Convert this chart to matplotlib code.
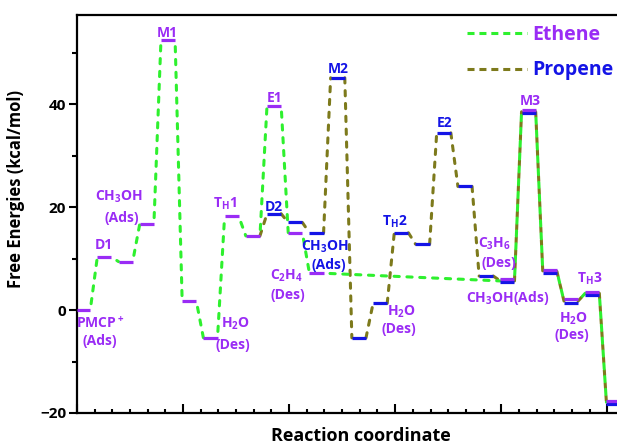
"""
Free-energy profile of the ethene and propene routes starting from PMCP+.

Each intermediate / TS is a short horizontal bar; neighbouring bars are
joined by dashed lines. Ethene route: purple bars, green dashes.
Propene route: blue bars, olive dashes. The two share the last six steps.

Writes out.png (617x445 px).
"""

import matplotlib.pyplot as plt
from matplotlib.lines import Line2D
from matplotlib.ticker import MultipleLocator

# step index along the reaction coordinate -> free energy (kcal/mol)
ETHENE_STEP = [0, 1, 2, 3, 4, 5, 6, 7, 8, 9, 10, 11, 20, 21, 22, 23, 24, 25]
ETHENE_G = [0.0, 10.3, 9.4, 16.7, 52.4, 1.75, -5.4, 18.2, 14.4, 39.7, 15.0,
            7.15, 5.65, 38.5, 7.5, 1.75, 3.25, -17.9]

PROPENE_STEP = [8, 9, 10, 11, 12, 13, 14, 15, 16, 17, 18, 19, 20, 21, 22,
                23, 24, 25]
PROPENE_G = [14.4, 18.7, 17.0, 15.0, 45.1, -5.4, 1.3, 15.0, 12.8, 34.4, 24.0,
             6.6, 5.65, 38.5, 7.5, 1.75, 3.25, -17.9]

SHARED_STEPS = [20, 21, 22, 23, 24, 25]

# annotations: text, x, y (baseline), route
LABELS = [
    ("M1", 5.12, 53.0, "eth"),
    ("E1", 11.2, 40.4, "eth"),
    ("M2", 14.76, 46.0, "pro"),
    ("E2", 20.79, 35.5, "pro"),
    ("M3", 25.62, 39.8, "eth"),
    ("D1", 1.53, 11.9, "eth"),
    ("CH$_3$OH", 2.35, 21.3, "eth"),
    ("(Ads)", 2.52, 17.0, "eth"),
    ("PMCP$^+$", 1.33, -3.4, "eth"),
    ("(Ads)", 1.30, -6.8, "eth"),
    ("T$_H$1", 8.37, 19.9, "eth"),
    ("D2", 11.14, 19.3, "pro"),
    ("H$_2$O", 8.97, -3.4, "eth"),
    ("(Des)", 8.8, -7.5, "eth"),
    ("C$_2$H$_4$", 11.88, 6.0, "eth"),
    ("(Des)", 11.9, 2.2, "eth"),
    ("CH$_3$OH", 14.03, 11.5, "pro"),
    ("(Ads)", 14.25, 8.0, "pro"),
    ("T$_H$2", 18.0, 16.4, "pro"),
    ("H$_2$O", 18.35, -1.1, "eth"),
    ("(Des)", 18.18, -4.4, "eth"),
    ("C$_3$H$_6$", 23.64, 12.2, "eth"),
    ("(Des)", 23.87, 8.3, "eth"),
    ("CH$_3$OH(Ads)", 24.35, 1.5, "eth"),
    ("T$_H$3", 28.99, 5.4, "eth"),
    ("H$_2$O", 28.1, -2.4, "eth"),
    ("(Des)", 27.97, -5.6, "eth"),
]

GREEN = "#2ef02e"
OLIVE = "#7d7a1c"
PURPLE = "#9a2cf5"
BLUE = "#1414e6"
TEXT_COLOR = {"eth": PURPLE, "pro": BLUE}

STEP_PITCH = 1.2      # spacing of the bars along x
BAR_LEFT = -0.05      # bar start relative to step * pitch
BAR_WIDTH = 0.8
DASH = (1.7, 2.5)     # in linewidths, round caps add lw/2 each side


def bar_span(step):
    x0 = step * STEP_PITCH + BAR_LEFT
    return max(x0, 0.0), x0 + BAR_WIDTH


def draw_route(ax, steps, energies, dash_color, dash_offset):
    for (s0, g0), (s1, g1) in zip(zip(steps, energies), zip(steps[1:], energies[1:])):
        xa = bar_span(s0)[1]
        xb = bar_span(s1)[0]
        ax.plot([xa, xb], [g0, g1], color=dash_color, lw=2.2,
                linestyle=(dash_offset, DASH), dash_capstyle="round", zorder=2)


def draw_bars(ax, steps, energies, color, skip_first=False, shift=0.0):
    for i, (s, g) in enumerate(zip(steps, energies)):
        if skip_first and i == 0:
            continue
        dy = shift if s in SHARED_STEPS else 0.0
        x0, x1 = bar_span(s)
        ax.plot([x0, x1], [g + dy, g + dy], color=color, lw=2.3,
                solid_capstyle="butt", zorder=3)


def main():
    plt.rcParams.update({
        "font.family": ["Open Sans", "DejaVu Sans"],
        "font.weight": "bold",
        "mathtext.fontset": "custom",
        "mathtext.rm": "Open Sans:bold",
        "mathtext.it": "Open Sans:bold",
        "mathtext.bf": "Open Sans:bold",
        "mathtext.default": "regular",
    })

    fig = plt.figure(figsize=(6.17, 4.45), dpi=100)
    ax = fig.add_axes([77 / 617, 32 / 445, 540 / 617, 398 / 445])

    draw_route(ax, PROPENE_STEP, PROPENE_G, OLIVE, 0.0)
    draw_route(ax, ETHENE_STEP, ETHENE_G, GREEN, 2.1)
    draw_bars(ax, PROPENE_STEP, PROPENE_G, BLUE, skip_first=True, shift=-0.3)
    draw_bars(ax, ETHENE_STEP, ETHENE_G, PURPLE, shift=0.3)

    for text, x, y, route in LABELS:
        ax.text(x, y, text, color=TEXT_COLOR[route], fontsize=10,
                fontweight="bold", ha="center", va="baseline", zorder=4)

    handles = [Line2D([], [], color=GREEN, lw=2.2, linestyle=(0, (2.3, 1.6))),
               Line2D([], [], color=OLIVE, lw=2.2, linestyle=(0, (2.3, 1.6)))]
    leg = ax.legend(handles, ["Ethene", "Propene"], loc="upper right",
                    bbox_to_anchor=(1.0, 0.985), frameon=False,
                    prop={"size": 14, "weight": "bold"},
                    handlelength=3.1, handletextpad=0.25, labelspacing=0.8,
                    borderpad=0.2, borderaxespad=0.0)
    for txt, col in zip(leg.get_texts(), [PURPLE, BLUE]):
        txt.set_color(col)

    ax.set_xlim(0, 30.55)
    ax.set_ylim(-20, 57.3)
    ax.xaxis.set_major_locator(MultipleLocator(6))
    ax.xaxis.set_minor_locator(MultipleLocator(1))
    ax.yaxis.set_major_locator(MultipleLocator(20))
    ax.yaxis.set_minor_locator(MultipleLocator(10))
    ax.tick_params(axis="x", which="both", direction="in", labelbottom=False)
    ax.tick_params(axis="x", which="major", length=6.5, width=1.5)
    ax.tick_params(axis="x", which="minor", length=3.0, width=1.5)
    ax.tick_params(axis="y", which="major", direction="out", length=5.8,
                   width=1.5, labelsize=11, pad=2)
    ax.tick_params(axis="y", which="minor", direction="out", length=3.6, width=1.5)
    for lab in ax.get_yticklabels():
        lab.set_fontweight("bold")

    for side in ("left", "bottom", "top"):
        ax.spines[side].set_linewidth(1.6)
    ax.spines["right"].set_visible(False)

    ax.set_ylabel("Free Energies (kcal/mol)", fontsize=12, fontweight="bold")
    ax.yaxis.set_label_coords(-0.097, 0.563)
    ax.set_xlabel("Reaction coordinate", fontsize=13, fontweight="bold")
    ax.xaxis.set_label_coords(0.526, -0.036)
    ax.xaxis.label.set_va("top")

    fig.savefig("out.png", dpi=100)
    plt.close(fig)


if __name__ == "__main__":
    main()
